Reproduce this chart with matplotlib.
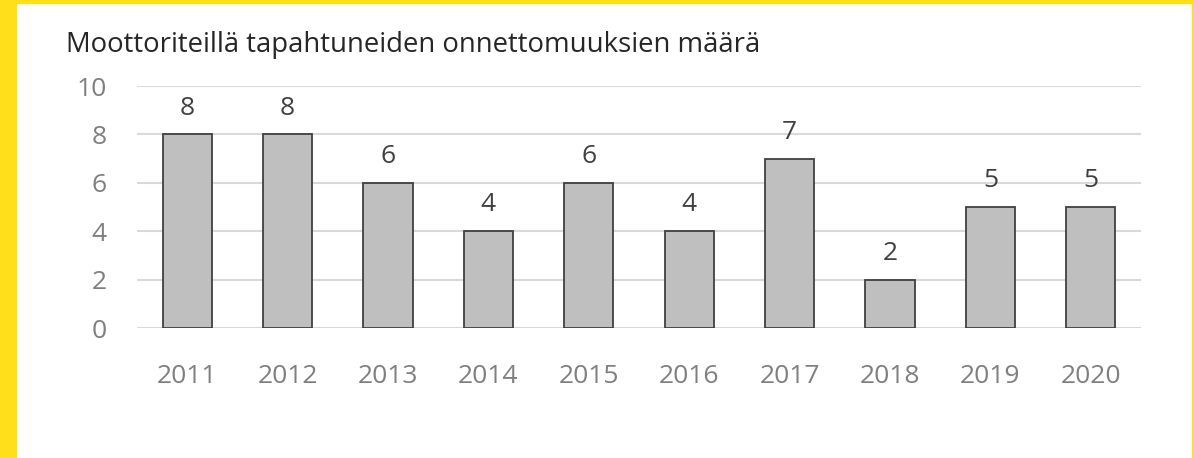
import matplotlib.pyplot as plt
from matplotlib.patches import Rectangle

years = ['2011', '2012', '2013', '2014', '2015', '2016', '2017', '2018', '2019', '2020']
counts = [8, 8, 6, 4, 6, 4, 7, 2, 5, 5]
title = 'Moottoriteillä tapahtuneiden onnettomuuksien määrä'

plt.rcParams['font.family'] = ['Open Sans', 'DejaVu Sans']

fig = plt.figure(figsize=(11.93, 4.58), dpi=100)
ax = fig.add_axes([137 / 1193, 1 - 328 / 458, 1004 / 1193, 242 / 458])

x = range(len(years))
bars = ax.bar(x, counts, width=0.49, color='#bfbfbf', edgecolor='#404040',
              linewidth=1.3, zorder=3)
ax.bar_label(bars, padding=10, fontsize=19, color='#404040')

ax.set_xlim(-0.5, len(years) - 0.5)
ax.set_ylim(0, 10)
ax.set_yticks(range(0, 11, 2))
ax.set_xticks(list(x))
ax.set_xticklabels(years)
ax.tick_params(axis='both', length=0, labelsize=19, labelcolor='#7f7f7f')
ax.tick_params(axis='y', pad=22)
ax.tick_params(axis='x', pad=26)
ax.grid(axis='y', color='#d9d9d9', linewidth=1.5, zorder=0)
for s in ax.spines.values():
    s.set_visible(False)

fig.text(66 / 1193, 1 - 45 / 458, title, fontsize=19.8, color='#262626',
         ha='left', va='center')

# yellow frame
yellow = '#ffde1c'
fig.patches.append(Rectangle((0, 0), 16 / 1193, 1, transform=fig.transFigure,
                             color=yellow, zorder=0))
fig.patches.append(Rectangle((0, 1 - 3 / 458), 1, 3 / 458, transform=fig.transFigure,
                             color=yellow, zorder=0))
fig.patches.append(Rectangle((1 - 1.5 / 1193, 0), 1.5 / 1193, 1, transform=fig.transFigure,
                             color=yellow, zorder=0))

fig.savefig('out.png', dpi=100)
